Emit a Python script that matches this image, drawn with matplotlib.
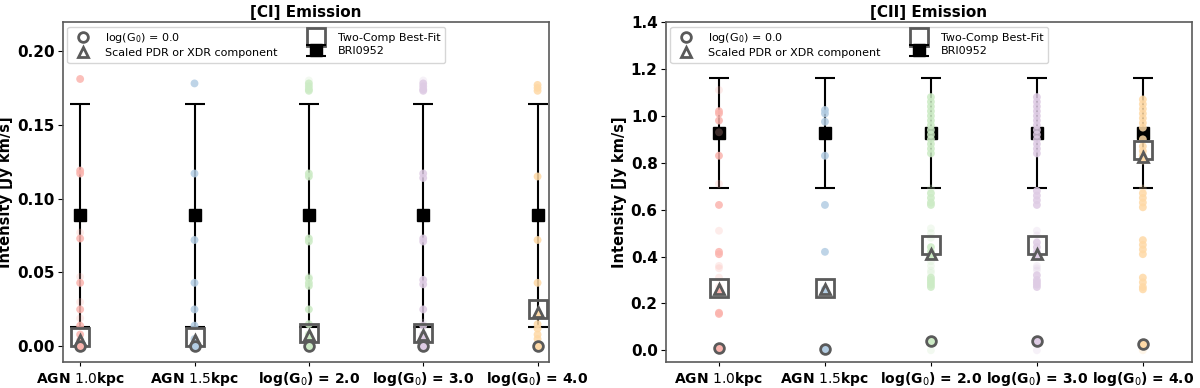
import matplotlib
matplotlib.use('Agg')
import matplotlib.pyplot as plt
from matplotlib.lines import Line2D

labels = ['AGN $1.0$kpc', 'AGN $1.5$kpc', r'log(G$_0$) = 2.0', r'log(G$_0$) = 3.0', r'log(G$_0$) = 4.0']
colors = ['#fbb4ae', '#b3cde3', '#ccebc5', '#decbe4', '#fed9a6']

# [CI] model grid points (strong / faint)
ci_strong = [
    [0.181, 0.119, 0.117, 0.073, 0.043, 0.025, 0.014, 0.008, 0.004, 0.000],
    [0.178, 0.117, 0.072, 0.043, 0.025, 0.014, 0.005, 0.000],
    [0.178, 0.176, 0.174, 0.173, 0.117, 0.115, 0.073, 0.071, 0.046, 0.043, 0.041, 0.025, 0.015, 0.008, 0.000],
    [0.178, 0.176, 0.174, 0.173, 0.117, 0.114, 0.073, 0.071, 0.045, 0.042, 0.025, 0.014, 0.008, 0.000],
    [0.177, 0.175, 0.173, 0.115, 0.072, 0.043, 0.015, 0.012, 0.008, 0.005, 0.000],
]
ci_faint = [
    [0.077, 0.047, 0.030, 0.019],
    [],
    [0.180, 0.047],
    [0.180, 0.016],
    [],
]
ci_circle = [0.000, 0.000, 0.000, 0.000, 0.000]
ci_triangle = [0.004, 0.004, 0.008, 0.008, 0.023]
ci_square = [0.006, 0.006, 0.009, 0.009, 0.025]
ci_obs, ci_err = 0.0889, 0.0755

# [CII] model grid points (strong / faint)
cii_strong = [
    [1.02, 1.01, 0.98, 0.83, 0.62, 0.42, 0.41, 0.16, 0.155],
    [1.025, 1.01, 0.975, 0.83, 0.62, 0.42, 0.26],
    [1.08, 1.06, 1.04, 1.02, 1.00, 0.98, 0.96, 0.94, 0.92, 0.90, 0.88, 0.86, 0.84,
     0.67, 0.65, 0.63, 0.62, 0.44, 0.42, 0.31, 0.30, 0.29, 0.28, 0.27],
    [1.08, 1.06, 1.04, 1.02, 1.00, 0.98, 0.96, 0.94, 0.92, 0.90, 0.88, 0.86, 0.84,
     0.68, 0.66, 0.64, 0.62, 0.46, 0.44, 0.42, 0.32, 0.30, 0.29, 0.28, 0.27],
    [1.07, 1.05, 1.03, 1.01, 0.99, 0.97, 0.95, 0.90, 0.87, 0.85, 0.83, 0.81,
     0.67, 0.65, 0.63, 0.61, 0.47, 0.45, 0.43, 0.41, 0.31, 0.29, 0.27, 0.26],
]
cii_faint = [
    [1.11, 0.93, 0.71, 0.51, 0.36, 0.35, 0.31, 0.27, 0.0],
    [0.0],
    [0.69, 0.52, 0.50, 0.48, 0.40, 0.38, 0.36, 0.34, 0.33, 0.0],
    [0.51, 0.49, 0.36, 0.35, 0.34, 0.0],
    [0.69, 0.0],
]
cii_circle = [0.008, 0.005, 0.038, 0.038, 0.027]
cii_triangle = [0.26, 0.26, 0.41, 0.41, 0.825]
cii_square = [0.265, 0.265, 0.45, 0.45, 0.855]
cii_obs, cii_err = 0.926, 0.235

gray = '#5a5a5a'

fig = plt.figure(figsize=(12, 3.88), dpi=100)
ax1 = fig.add_axes([0.0525, 0.067, 0.405, 0.876])
ax2 = fig.add_axes([0.555, 0.067, 0.438, 0.876])


def draw(ax, strong, faint, circ, tri, sq, obs, err, title):
    xs = range(len(labels))
    eb = None
    for i in xs:
        eb = ax.errorbar(i, obs, yerr=err, fmt='s', color='black', ms=8.5, capsize=7,
                         elinewidth=1.5, capthick=1.5, zorder=2)
    for i in xs:
        ax.scatter([i] * len(strong[i]), strong[i], s=32, color=colors[i], alpha=0.85,
                   edgecolors='none', zorder=3)
        ax.scatter([i] * len(faint[i]), faint[i], s=32, color=colors[i], alpha=0.25,
                   edgecolors='none', zorder=3)
    for i in xs:
        ax.plot(i, sq[i], 's', ms=13, mfc='none', mec=gray, mew=2, zorder=4)
        ax.plot(i, tri[i], '^', ms=7.5, mfc=colors[i], mec=gray, mew=2, zorder=5)
        ax.plot(i, circ[i], 'o', ms=7, mfc=colors[i], mec=gray, mew=2, zorder=5)
    ax.set_xticks(list(xs))
    ax.set_xticklabels(labels, fontweight='bold', fontsize=10)
    ax.tick_params(axis='x', length=3, pad=2.5)
    ax.tick_params(axis='y', length=3.5, pad=2.5)
    ax.set_title(title, fontweight='bold', fontsize=11, pad=4)
    ax.set_ylabel('Intensity [Jy km/s]', fontweight='bold', fontsize=10.5, labelpad=3)
    for sp in ax.spines.values():
        sp.set_color(gray)
        sp.set_linewidth(1.2)

    h = [
        Line2D([], [], marker='o', ls='none', ms=7, mfc='white', mec=gray, mew=2),
        Line2D([], [], marker='^', ls='none', ms=7.5, mfc='white', mec=gray, mew=2),
        Line2D([], [], marker='s', ls='none', ms=13, mfc='white', mec=gray, mew=2),
        eb,
    ]
    ax.legend(h, [r'log(G$_0$) = 0.0', 'Scaled PDR or XDR component', 'Two-Comp Best-Fit', 'BRI0952'],
              loc='upper left', ncol=2, fontsize=8, columnspacing=2.4, handletextpad=1.0,
              labelspacing=0.3, borderaxespad=0.4)


draw(ax1, ci_strong, ci_faint, ci_circle, ci_triangle, ci_square, ci_obs, ci_err, '[CI] Emission')
ax1.set_xlim(-0.15, 4.1)
ax1.set_ylim(-0.0106, 0.2195)
ax1.set_yticks([0.0, 0.05, 0.10, 0.15, 0.20])
ax1.set_yticklabels(['0.00', '0.05', '0.10', '0.15', '0.20'], fontweight='bold', fontsize=11)

draw(ax2, cii_strong, cii_faint, cii_circle, cii_triangle, cii_square, cii_obs, cii_err, '[CII] Emission')
ax2.set_xlim(-0.5, 4.46)
ax2.set_ylim(-0.05, 1.4)
ax2.set_yticks([0.0, 0.2, 0.4, 0.6, 0.8, 1.0, 1.2, 1.4])
ax2.set_yticklabels(['0.0', '0.2', '0.4', '0.6', '0.8', '1.0', '1.2', '1.4'], fontweight='bold', fontsize=11)

fig.savefig('out.png', dpi=100)
